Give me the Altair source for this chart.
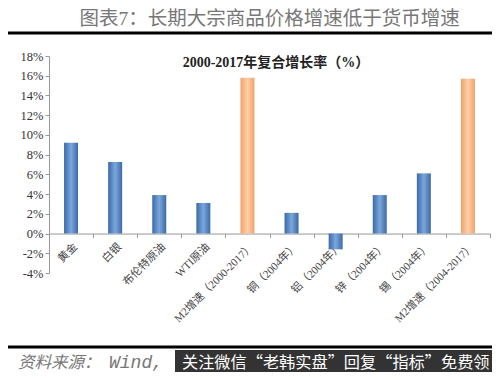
import altair as alt
import pandas as pd

categories = ["黄金", "白银", "布伦特原油", "WTI原油", "M2增速（2000-2017）",
              "铜（2004年）", "铝（2004年）", "锌（2004年）", "锡（2004年）", "M2增速（2004-2017）"]
values = [9.2, 7.25, 3.9, 3.1, 15.8, 2.1, -1.6, 3.9, 6.1, 15.7]
kinds = ["商品", "商品", "商品", "商品", "M2", "商品", "商品", "商品", "商品", "M2"]
y_ticks = [-4, -2, 0, 2, 4, 6, 8, 10, 12, 14, 16, 18]

title_text = "图表7：长期大宗商品价格增速低于货币增速"
inner_title = "2000-2017年复合增长率（%）"
source_text = "资料来源："
source_text2 = "Wind,"
banner_text = "关注微信“老韩实盘”回复“指标”免费领"

df = pd.DataFrame({"cat": categories, "val": values, "kind": kinds})

W, H = 441, 217
SERIF = "Liberation Serif, Noto Sans CJK SC"

x_enc = alt.X("cat:N", sort=categories, title=None,
              scale=alt.Scale(paddingInner=0, paddingOuter=0),
              axis=alt.Axis(labelAngle=-45, labelFont=SERIF, labelFontSize=11,
                            labelColor="#444", tickBand="extent", tickSize=4,
                            domainColor="#999", tickColor="#999",
                            offset=-H * 4 / 22, labelPadding=3))
y_enc = alt.Y("val:Q", title=None,
              scale=alt.Scale(domain=[-4, 18], nice=False, zero=False),
              axis=alt.Axis(values=y_ticks, labelExpr="datum.value + '%'", grid=False,
                            labelFont=SERIF, labelFontSize=12.5, labelColor="#333",
                            domainColor="#999", tickColor="#999", tickSize=4,
                            labelPadding=2))

blue = alt.Gradient(gradient="linear", x1=0, x2=1, y1=0, y2=0,
                    stops=[alt.GradientStop(offset=0, color="#3C69A8"),
                           alt.GradientStop(offset=0.5, color="#7BA7DC"),
                           alt.GradientStop(offset=1, color="#3C69A8")])
orange = alt.Gradient(gradient="linear", x1=0, x2=1, y1=0, y2=0,
                      stops=[alt.GradientStop(offset=0, color="#F3A069"),
                             alt.GradientStop(offset=0.5, color="#FDD0AA"),
                             alt.GradientStop(offset=1, color="#F3A069")])

base = alt.Chart(df)
bars_blue = base.transform_filter(alt.datum.kind == "商品").mark_bar(width=14, fill=blue).encode(x=x_enc, y=y_enc)
bars_orange = base.transform_filter(alt.datum.kind == "M2").mark_bar(width=14, fill=orange).encode(x=x_enc, y=y_enc)


def one(text):
    return alt.Chart(pd.DataFrame({"t": [text]}))


title = one(title_text).mark_text(font=SERIF, fontSize=19.5, color="#777", align="center",
                                  baseline="middle").encode(text="t:N", x=alt.value(220.5), y=alt.value(-37.5))
inner = one(inner_title).mark_text(font=SERIF, fontSize=14, fontWeight="bold", color="#222",
                                   align="center", baseline="middle").encode(text="t:N", x=alt.value(227), y=alt.value(7))
top_line = one("a").mark_rule(color="black", strokeWidth=3).encode(x=alt.value(-46), x2=alt.value(444), y=alt.value(-23))
bot_line = one("a").mark_rule(color="black", strokeWidth=3).encode(x=alt.value(-46), x2=alt.value(444), y=alt.value(291))
source = one(source_text).mark_text(font=SERIF, fontSize=16.5, fontStyle="italic", color="#777",
                                    align="left", baseline="middle").encode(text="t:N", x=alt.value(-31), y=alt.value(307))
source2 = one(source_text2).mark_text(font="Liberation Mono", fontSize=18, fontStyle="italic", color="#777",
                                      align="left", baseline="middle").encode(text="t:N", x=alt.value(60), y=alt.value(307))
box = one("a").mark_rect(color="#333").encode(x=alt.value(126), x2=alt.value(460), y=alt.value(294), y2=alt.value(340))
banner = one(banner_text).mark_text(font="Noto Sans CJK SC", fontSize=16.2, color="white",
                                    align="left", baseline="middle").encode(text="t:N", x=alt.value(133), y=alt.value(307))

chart = alt.layer(bars_blue, bars_orange, title, inner, top_line, bot_line, source, source2, box, banner).properties(
    width=W, height=H,
    autosize=alt.AutoSizeParams(type="none"),
    padding={"left": 41, "top": 48, "right": 2, "bottom": 99},
    background="white",
).configure_view(stroke=None)

chart.save("out.html", embed_options={"renderer": "svg", "actions": False})
